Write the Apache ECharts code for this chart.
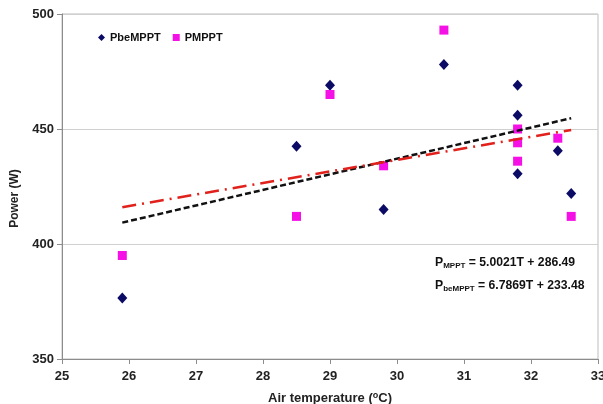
<!DOCTYPE html>
<html>
<head>
<meta charset="utf-8">
<script src="https://cdn.jsdelivr.net/npm/echarts@6/dist/echarts.min.js"></script>
<style>
  html, body { margin: 0; padding: 0; background: #fff; }
  #chart { width: 603px; height: 404px; }
</style>
</head>
<body>
<div id="chart"></div>
<script>
// --- data ---
const temps = [25.9, 28.5, 29.0, 29.8, 30.7, 31.8, 31.8, 31.8, 32.4, 32.6];
const pBeMppt = [376.5, 442.5, 469, 415, 478, 469, 456, 430.5, 440.5, 422];
const pMppt = [395, 412, 465, 434, 493, 450, 444, 436, 446, 412];

// trend line end points (from the fitted equations on the chart)
const trendT = [25.9, 32.6];
const trendBeMppt = [409.3, 454.7];
const trendMppt = [416.0, 449.6];

const yTicks = [350, 400, 450, 500];
const xTicks = [25, 26, 27, 28, 29, 30, 31, 32, 33];

const zip = (xs, ys) => xs.map((x, i) => [x, ys[i]]);

const FONT = '"Liberation Sans", Arial, sans-serif';
const chart = echarts.init(document.getElementById('chart'), null, { renderer: 'canvas' });

// rich styles for the two regression labels
const eqRich = {
  p: { fontFamily: FONT, fontWeight: 'bold', fontSize: 12.2, fill: '#111' },
  sub: { fontFamily: FONT, fontWeight: 'bold', fontSize: 8, fill: '#111', verticalAlign: 'bottom', padding: [6, 0, 0, 0] }
};

const option = {
  animation: false,
  backgroundColor: '#fff',
  textStyle: { fontFamily: FONT },
  grid: {
    left: 62, right: 5, top: 14, bottom: 45,
    outerBoundsMode: 'none', containLabel: false,
    show: true, borderColor: '#bdbdbd', borderWidth: 1
  },
  legend: {
    left: 93, top: 27,
    itemWidth: 7, itemHeight: 7, itemGap: 12,
    textStyle: { fontFamily: FONT, fontWeight: 'bold', fontSize: 11, color: '#111' },
    data: [
      { name: 'PbeMPPT', icon: 'diamond', itemStyle: { opacity: 1 } },
      { name: 'PMPPT', icon: 'rect', itemStyle: { opacity: 1 } }
    ]
  },
  xAxis: {
    type: 'value', min: 25, max: 33, interval: 1,
    axisLine: { show: true, lineStyle: { color: '#8c8c8c', width: 1 } },
    axisTick: { show: true, length: 5, lineStyle: { color: '#8c8c8c' } },
    splitLine: { show: false },
    axisLabel: {
      fontFamily: FONT, fontWeight: 'bold', fontSize: 13, color: '#222', margin: 11,
      formatter: v => xTicks.includes(v) ? String(v) : ''
    },
    name: '{t|Air temperature (}{s|o}{t|C)}',
    nameLocation: 'middle', nameGap: 32,
    nameTextStyle: {
      rich: {
        t: { fontFamily: FONT, fontWeight: 'bold', fontSize: 13, color: '#222' },
        s: { fontFamily: FONT, fontWeight: 'bold', fontSize: 9, color: '#222', verticalAlign: 'top', padding: [0, 0, 6, 0] }
      }
    }
  },
  yAxis: {
    type: 'value', min: 350, max: 500, interval: 50,
    axisLine: { show: true, lineStyle: { color: '#8c8c8c', width: 1 } },
    axisTick: { show: true, length: 5, lineStyle: { color: '#8c8c8c' } },
    splitLine: { show: true, lineStyle: { color: '#d0d0d0', width: 1 } },
    axisLabel: {
      fontFamily: FONT, fontWeight: 'bold', fontSize: 13, color: '#222', margin: 8,
      formatter: v => yTicks.includes(v) ? String(v) : ''
    },
    name: 'Power (W)', nameLocation: 'middle', nameGap: 41, nameRotate: 90,
    nameTextStyle: { fontFamily: FONT, fontWeight: 'bold', fontSize: 12, color: '#222', padding: [0, 24, 0, 0] }
  },
  series: [
    {
      name: 'PbeMPPT', type: 'scatter', symbol: 'diamond', symbolSize: [10, 11],
      itemStyle: { color: '#0b0b66', opacity: 1 },
      data: zip(temps, pBeMppt), z: 3
    },
    {
      name: 'PMPPT', type: 'scatter', symbol: 'rect', symbolSize: 9,
      itemStyle: { color: '#f511e6', opacity: 1 },
      data: zip(temps, pMppt), z: 3
    },
    {
      name: 'trendBe', type: 'line', showSymbol: false, silent: true,
      lineStyle: { color: '#111', width: 2.5, type: [6, 3] },
      data: zip(trendT, trendBeMppt), z: 4
    },
    {
      name: 'trendM', type: 'line', showSymbol: false, silent: true,
      lineStyle: { color: '#e0211c', width: 2.5, type: [14, 6, 2, 6] },
      data: zip(trendT, trendMppt), z: 4
    }
  ],
  graphic: [
    {
      type: 'text', left: 435, top: 257,
      style: { text: '{p|P}{sub|MPPT}{p| = 5.0021T + 286.49}', rich: eqRich }
    },
    {
      type: 'text', left: 435, top: 280,
      style: { text: '{p|P}{sub|beMPPT}{p| = 6.7869T + 233.48}', rich: eqRich }
    }
  ]
};

chart.setOption(option);
</script>
</body>
</html>
